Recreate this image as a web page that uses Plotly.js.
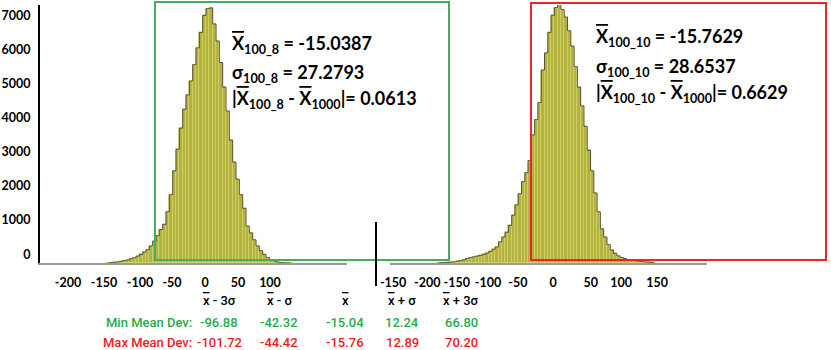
<!DOCTYPE html>
<html>
<head>
<meta charset="utf-8">
<script src="https://cdn.plot.ly/plotly-3.0.1.min.js"></script>
<style>
  html, body { margin: 0; padding: 0; background: #fff; }
  #graph { width: 831px; height: 350px; }
</style>
</head>
<body>
<div id="graph"></div>
<script>
// histogram of the 100_8 run (bin centres, 5 wide)
const leftBins = [
  -140, -135, -130, -125, -120, -115, -110, -105, -100, -95, -90, -85, -80, -75,
  -70, -65, -60, -55, -50, -45, -40, -35, -30, -25, -20, -15, -10, -5, 0, 5, 10,
  15, 20, 25, 30, 35, 40, 45, 50, 55, 60, 65, 70, 75, 80, 85, 90, 95, 100, 105,
  110, 115, 120, 125, 130, 135
];
const leftCounts = [
  5, 10, 20, 30, 45, 70, 90, 120, 155, 200, 250, 320, 390, 500,
  640, 800, 980, 1130, 1500, 2000, 2700, 3330, 3950, 4500, 4920, 5330, 5810, 6300, 6750, 7250, 7450,
  7470, 7000, 6500, 5870, 5150, 4450, 3600, 2950, 2450, 2000, 1600, 1080, 880, 680, 500, 360, 250, 160, 100,
  60, 30, 12, 6, 3, 2
];

// histogram of the 100_10 run
const rightBins = [
  -180, -175, -170, -165, -160, -155, -150, -145, -140, -135, -130, -125, -120, -115,
  -110, -105, -100, -95, -90, -85, -80, -75, -70, -65, -60, -55, -50, -45, -40,
  -35, -30, -25, -20, -15, -10, -5, 0, 5, 10, 15, 20, 25, 30, 35, 40, 45, 50, 55,
  60, 65, 70, 75, 80, 85, 90, 95, 100, 105, 110, 115, 120, 125, 130, 135, 140, 145, 150
];
const rightCounts = [
  5, 8, 12, 18, 25, 35, 50, 70, 95, 130, 160, 180, 200, 220,
  250, 290, 340, 400, 470, 620, 760, 900, 1100, 1400, 1700, 2030, 2380, 2650, 3000,
  3750, 4200, 4700, 5650, 6150, 6750, 7250, 7480, 7580, 7420, 7200, 6800, 6350, 5750, 5150, 4600, 4000, 3300, 2700,
  2050, 1500, 1000, 760, 540, 380, 280, 210, 160, 130, 100, 85, 70, 55, 45, 35, 25, 15, 10
];

// tick labels as printed under each panel
const leftTickVals = [-199.5, -145.5, -91.5, -43.5, 6, 55.5, 103.5];
const leftTickText = ["-200", "-150", "-100", "-50", "0", "50", "100"];
const rightTickVals = [-248, -196, -151, -103.5, -58, -4.6, 53, 99, 154];
const rightTickText = ["-150", "-200", "-150", "-100", "-50", "0", "50", "100", "150"];
const yTicks = [0, 1000, 2000, 3000, 4000, 5000, 6000, 7000];

// summary table
const colHeads = ["x̄ - 3σ", "x̄ - σ", "x̄", "x̄ + σ", "x̄ + 3σ"];
const minMeanDev = ["-96.88", "-42.32", "-15.04", "12.24", "66.80"];
const maxMeanDev = ["-101.72", "-44.42", "-15.76", "12.89", "70.20"];

const barFill = '#b3b240';
const barEdge = '#d9d862';
const green = '#1fae4a';
const red = '#ee1c1c';

// pixel helpers for paper positioned items
const W = 791, H = 258;
const px = v => (v - 40) / W;
const py = v => (263 - v) / H;

const bold = {family: 'Lato', size: 18, color: '#000', weight: 'bold'};
const tickFont = {family: 'Lato', size: 12.5, color: '#000', weight: 'bold'};
const ov = s => `<span style="text-decoration:overline">${s}</span>`;

const traces = [
  {type: 'bar', x: leftBins, y: leftCounts, width: 5, xaxis: 'x', yaxis: 'y',
   marker: {color: barFill, line: {color: barEdge, width: 0.6}}, hoverinfo: 'x+y'},
  {type: 'scatter', mode: 'lines', x: leftBins, y: leftCounts, xaxis: 'x', yaxis: 'y',
   line: {shape: 'hvh', color: '#55553a', width: 1}, hoverinfo: 'skip'},
  {type: 'bar', x: rightBins, y: rightCounts, width: 5, xaxis: 'x2', yaxis: 'y',
   marker: {color: barFill, line: {color: barEdge, width: 0.6}}, hoverinfo: 'x+y'},
  {type: 'scatter', mode: 'lines', x: rightBins, y: rightCounts, xaxis: 'x2', yaxis: 'y',
   line: {shape: 'hvh', color: '#55553a', width: 1}, hoverinfo: 'skip'}
];

const annotations = [];
const addText = (text, x, y, font, anchor) => annotations.push({
  text, x: px(x), y: py(y), xref: 'paper', yref: 'paper',
  xanchor: anchor || 'left', yanchor: 'middle', showarrow: false, font
});

addText(`${ov('X')}<sub>100_8</sub> = -15.0387`, 230, 44, bold);
addText(`σ<sub>100_8</sub> = 27.2793`, 230, 73, bold);
addText(`|${ov('X')}<sub>100_8</sub> - ${ov('X')}<sub>1000</sub>|= 0.0613`, 230, 99, bold);
addText(`${ov('X')}<sub>100_10</sub> = -15.7629`, 594, 37, bold);
addText(`σ<sub>100_10</sub> = 28.6537`, 594, 67, bold);
addText(`|${ov('X')}<sub>100_10</sub> - ${ov('X')}<sub>1000</sub>|= 0.6629`, 594, 93, bold);

const colX = [219, 279, 345, 402, 461];
const tabFont = c => ({family: 'Roboto', size: 13, color: c, weight: 500});
colHeads.forEach((h, i) => addText(h.replace('x̄', ov('x')), colX[i], 300, tabFont('#000'), 'center'));
addText('Min Mean Dev:', 194, 322, tabFont(green), 'right');
addText('Max Mean Dev:', 194, 342, tabFont(red), 'right');
minMeanDev.forEach((v, i) => addText(v, colX[i], 322, tabFont(green), 'center'));
maxMeanDev.forEach((v, i) => addText(v, colX[i], 342, tabFont(red), 'center'));

const shapes = [
  {type: 'rect', xref: 'paper', yref: 'paper', x0: px(155), x1: px(449), y0: py(260), y1: py(2),
   line: {color: '#45ad63', width: 2}},
  {type: 'rect', xref: 'paper', yref: 'paper', x0: px(531), x1: px(826), y0: py(260), y1: py(3),
   line: {color: '#f02323', width: 2}},
  {type: 'line', xref: 'paper', yref: 'paper', x0: px(376), x1: px(376), y0: py(222), y1: py(286),
   line: {color: '#000', width: 2}}
];

const layout = {
  width: 831,
  height: 350,
  margin: {l: 40, r: 0, t: 5, b: 87},
  paper_bgcolor: '#fff',
  plot_bgcolor: 'rgba(0,0,0,0)',
  showlegend: false,
  bargap: 0,
  xaxis: {
    domain: [0, px(347)], range: [-241.5, 219],
    tickvals: leftTickVals, ticktext: leftTickText, tickfont: tickFont, tickangle: 0,
    showgrid: false, zeroline: false, showline: true, linecolor: '#9a9a9a', linewidth: 1.5,
    ticks: '', ticklabelstandoff: 7
  },
  xaxis2: {
    domain: [px(390), px(707)], range: [-252.7, 229.8], anchor: 'y',
    tickvals: rightTickVals, ticktext: rightTickText, tickfont: tickFont, tickangle: 0,
    showgrid: false, zeroline: false, showline: true, linecolor: '#9a9a9a', linewidth: 1.5,
    ticks: '', ticklabelstandoff: 7
  },
  yaxis: {
    range: [0, 7555], tickvals: yTicks, tickfont: tickFont,
    showgrid: false, zeroline: false, showline: true, linecolor: '#000', linewidth: 2,
    ticks: '', ticklabelposition: 'outside top', ticklabelstandoff: 5
  },
  annotations,
  shapes
};

Plotly.newPlot('graph', traces, layout, {displayModeBar: false});
</script>
</body>
</html>
